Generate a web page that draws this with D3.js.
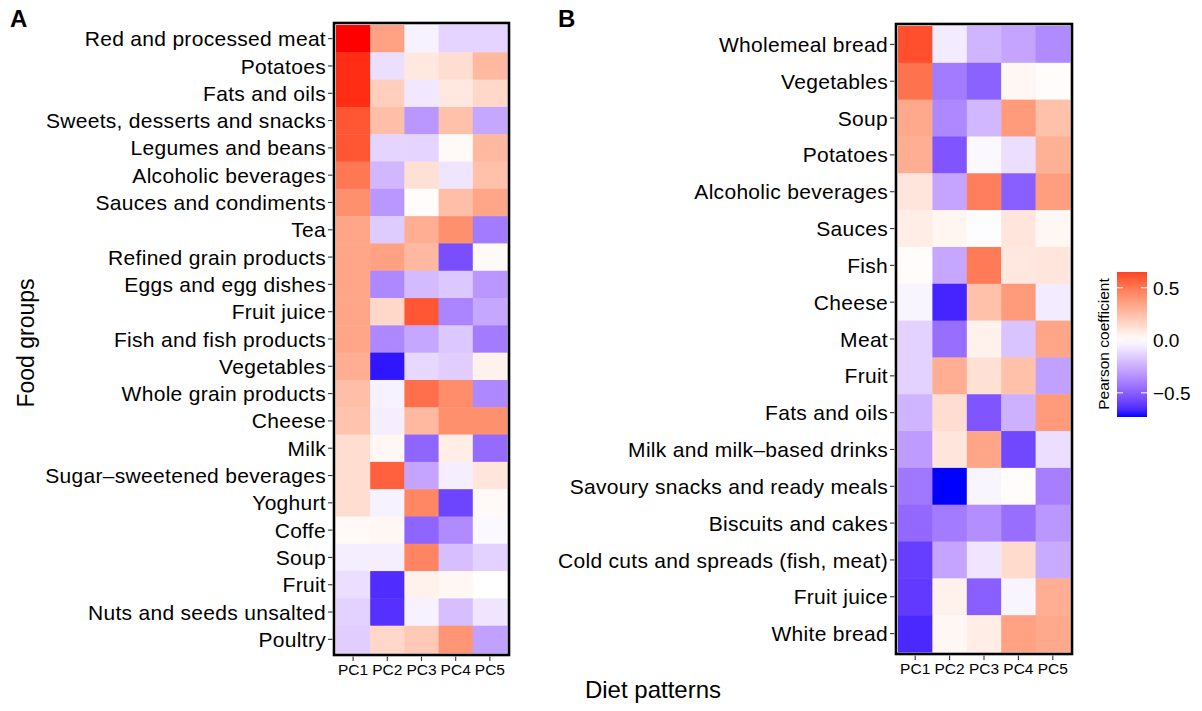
<!DOCTYPE html>
<html>
<head>
<meta charset="utf-8">
<script src="https://cdn.jsdelivr.net/npm/d3@7"></script>
<style>
  body { margin: 0; background: #fff; }
  text { font-family: 'Liberation Sans', Arial, Helvetica, sans-serif; fill: #000; }
</style>
</head>
<body>
<div id="chart"></div>
<script>
var patterns = ['PC1', 'PC2', 'PC3', 'PC4', 'PC5']

var groupsA = [
  'Red and processed meat', 'Potatoes', 'Fats and oils', 'Sweets, desserts and snacks',
  'Legumes and beans', 'Alcoholic beverages', 'Sauces and condiments', 'Tea',
  'Refined grain products', 'Eggs and egg dishes', 'Fruit juice', 'Fish and fish products',
  'Vegetables', 'Whole grain products', 'Cheese', 'Milk', 'Sugar–sweetened beverages',
  'Yoghurt', 'Coffe', 'Soup', 'Fruit', 'Nuts and seeds unsalted', 'Poultry'
]

var valuesA = [
  [0.73, 0.36, -0.04, -0.13, -0.13],
  [0.69, -0.10, 0.09, 0.13, 0.27],
  [0.69, 0.19, -0.07, 0.09, 0.15],
  [0.60, 0.25, -0.32, 0.24, -0.27],
  [0.60, -0.13, -0.13, 0.02, 0.27],
  [0.50, -0.22, 0.12, -0.08, 0.24],
  [0.42, -0.32, 0.01, 0.25, 0.34],
  [0.34, -0.16, 0.31, 0.42, -0.41],
  [0.34, 0.36, 0.27, -0.55, 0.02],
  [0.34, -0.37, -0.21, -0.17, -0.32],
  [0.34, 0.15, 0.60, -0.38, -0.27],
  [0.34, -0.37, -0.27, -0.17, -0.41],
  [0.31, -0.70, -0.12, -0.15, 0.05],
  [0.25, -0.04, 0.53, 0.43, -0.37],
  [0.23, -0.05, 0.27, 0.42, 0.42],
  [0.13, 0.03, -0.48, 0.07, -0.46],
  [0.13, 0.57, -0.28, -0.05, 0.10],
  [0.13, -0.04, 0.45, -0.58, 0.02],
  [0.02, 0.03, -0.48, -0.36, -0.02],
  [-0.05, -0.05, 0.46, -0.20, -0.14],
  [-0.10, -0.65, 0.05, 0.03, 0.00],
  [-0.14, -0.64, -0.04, -0.20, -0.08],
  [-0.15, 0.15, 0.21, 0.40, -0.29]
]

var groupsB = [
  'Wholemeal bread', 'Vegetables', 'Soup', 'Potatoes', 'Alcoholic beverages', 'Sauces',
  'Fish', 'Cheese', 'Meat', 'Fruit', 'Fats and oils', 'Milk and milk–based drinks',
  'Savoury snacks and ready meals', 'Biscuits and cakes', 'Cold cuts and spreads (fish, meat)',
  'Fruit juice', 'White bread'
]

var valuesB = [
  [0.62, -0.06, -0.23, -0.28, -0.36],
  [0.52, -0.41, -0.49, 0.03, 0.01],
  [0.33, -0.37, -0.22, 0.38, 0.24],
  [0.31, -0.53, -0.02, -0.10, 0.30],
  [0.10, -0.28, 0.48, -0.50, 0.37],
  [0.07, 0.04, -0.01, 0.10, 0.03],
  [0.01, -0.27, 0.49, 0.09, 0.10],
  [-0.03, -0.67, 0.24, 0.38, -0.06],
  [-0.14, -0.45, 0.05, -0.18, 0.34],
  [-0.14, 0.31, 0.12, 0.24, -0.29],
  [-0.23, 0.13, -0.53, -0.24, 0.38],
  [-0.31, 0.10, 0.34, -0.57, -0.10],
  [-0.42, -0.73, -0.03, 0.01, -0.40],
  [-0.47, -0.41, -0.35, -0.45, -0.32],
  [-0.60, -0.28, -0.08, 0.14, -0.26],
  [-0.61, 0.05, -0.50, -0.03, 0.31],
  [-0.66, 0.03, 0.07, 0.36, 0.33]
]

var legendTicks = [0.5, 0, -0.5]
var legendRange = [-0.73, 0.65]

var width = 1202
var height = 711

var svg = d3
  .select('#chart')
  .append('svg')
  .attr('width', width)
  .attr('height', height)

let colorScale = d3
  .scaleLinear()
  .domain([-0.73, 0, 0.73])
  .range(['#0000ff', '#ffffff', '#ff0000'])
  .interpolate(d3.interpolateLab)
  .clamp(true)

function drawPanel(box, groups, values) {
  var x = d3.scaleBand().domain(patterns).range([box.x0, box.x1])
  var y = d3.scaleBand().domain(groups).range([box.y0, box.y1])

  var cells = []
  groups.forEach((g, i) => {
    patterns.forEach((p, j) => {
      cells.push({ group: g, pattern: p, value: values[i][j] })
    })
  })

  var g = svg.append('g')

  g.selectAll('.cell')
    .data(cells)
    .enter()
    .append('rect')
    .attr('class', 'cell')
    .attr('x', d => x(d.pattern))
    .attr('y', d => y(d.group))
    .attr('width', x.bandwidth() + 0.5)
    .attr('height', y.bandwidth() + 0.5)
    .attr('fill', d => colorScale(d.value))

  g.append('rect')
    .attr('x', box.x0 - 2)
    .attr('y', box.y0 - 2)
    .attr('width', box.x1 - box.x0 + 4)
    .attr('height', box.y1 - box.y0 + 4)
    .attr('fill', 'none')
    .attr('stroke', 'black')
    .attr('stroke-width', 2.6)

  // y axis: ticks and labels
  var yAxis = g.append('g')
  yAxis.selectAll('line')
    .data(groups)
    .enter()
    .append('line')
    .attr('x1', box.x0 - 8)
    .attr('x2', box.x0 - 3.5)
    .attr('y1', d => y(d) + y.bandwidth() / 2)
    .attr('y2', d => y(d) + y.bandwidth() / 2)
    .attr('stroke', '#333')
    .attr('stroke-width', 1.1)
  yAxis.selectAll('text')
    .data(groups)
    .enter()
    .append('text')
    .attr('x', box.x0 - 10)
    .attr('y', d => y(d) + y.bandwidth() / 2)
    .attr('dy', '0.36em')
    .attr('text-anchor', 'end')
    .attr('font-size', 21)
    .attr('letter-spacing', 0.3)
    .text(d => d)

  // x axis
  var xAxis = g.append('g')
  xAxis.selectAll('line')
    .data(patterns)
    .enter()
    .append('line')
    .attr('x1', d => x(d) + x.bandwidth() / 2)
    .attr('x2', d => x(d) + x.bandwidth() / 2)
    .attr('y1', box.y1 + 3.5)
    .attr('y2', box.y1 + 8)
    .attr('stroke', '#333')
    .attr('stroke-width', 1.1)
  xAxis.selectAll('text')
    .data(patterns)
    .enter()
    .append('text')
    .attr('x', d => x(d) + x.bandwidth() / 2)
    .attr('y', box.y1 + 22)
    .attr('text-anchor', 'middle')
    .attr('font-size', 15.5)
    .text(d => d)
}

drawPanel({ x0: 336, x1: 507, y0: 25, y1: 653 }, groupsA, valuesA)
drawPanel({ x0: 898, x1: 1070, y0: 26, y1: 652 }, groupsB, valuesB)

// panel tags
svg.append('text').attr('x', 10).attr('y', 27).attr('font-size', 24).attr('font-weight', 'bold').text('A')
svg.append('text').attr('x', 558).attr('y', 27).attr('font-size', 24).attr('font-weight', 'bold').text('B')

// axis titles
svg.append('text')
  .attr('transform', 'translate(34,343) rotate(-90)')
  .attr('text-anchor', 'middle')
  .attr('font-size', 23)
  .text('Food groups')

svg.append('text')
  .attr('x', 653)
  .attr('y', 698)
  .attr('text-anchor', 'middle')
  .attr('font-size', 24)
  .text('Diet patterns')

// legend
var legendY = d3.scaleLinear().domain(legendRange).range([417, 272])
var legendX = 1117
var legendW = 30

var grad = svg.append('defs')
  .append('linearGradient')
  .attr('id', 'legend-grad')
  .attr('x1', 0).attr('x2', 0).attr('y1', 1).attr('y2', 0)

d3.range(0, 1.0001, 0.05).forEach(t => {
  var v = legendRange[0] + t * (legendRange[1] - legendRange[0])
  grad.append('stop')
    .attr('offset', t)
    .attr('stop-color', colorScale(v))
})

svg.append('rect')
  .attr('x', legendX)
  .attr('y', legendY(legendRange[1]))
  .attr('width', legendW)
  .attr('height', legendY(legendRange[0]) - legendY(legendRange[1]))
  .attr('fill', 'url(#legend-grad)')

legendTicks.forEach(v => {
  svg.append('line')
    .attr('x1', legendX).attr('x2', legendX + 6)
    .attr('y1', legendY(v)).attr('y2', legendY(v))
    .attr('stroke', 'white').attr('stroke-width', 1)
  svg.append('line')
    .attr('x1', legendX + legendW - 6).attr('x2', legendX + legendW)
    .attr('y1', legendY(v)).attr('y2', legendY(v))
    .attr('stroke', 'white').attr('stroke-width', 1)
  svg.append('text')
    .attr('x', legendX + legendW + 6)
    .attr('y', legendY(v))
    .attr('dy', '0.36em')
    .attr('font-size', 19)
    .text(d3.format('.1f')(v).replace('-', '\u2212'))
})

svg.append('text')
  .attr('transform', 'translate(1109,344) rotate(-90)')
  .attr('text-anchor', 'middle')
  .attr('font-size', 15.5)
  .text('Pearson coefficient')
</script>
</body>
</html>
